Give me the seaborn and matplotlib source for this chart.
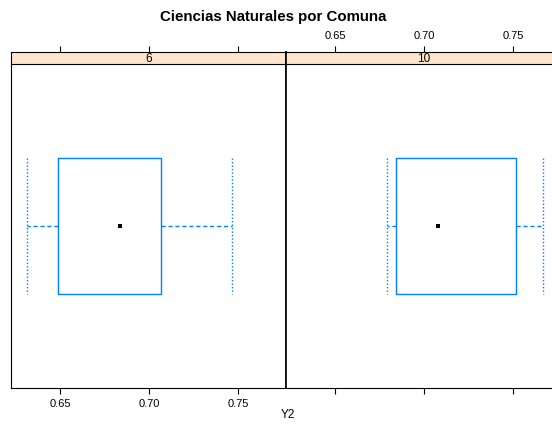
import numpy as np
import pandas as pd
import matplotlib
matplotlib.use('Agg')
import matplotlib.pyplot as plt
import seaborn as sns

# Resumen de cinco números (mín, Q1, mediana, Q3, máx)
comunas = ['6', '10']
y2_comuna_6 = [0.6314, 0.6489, 0.6833, 0.7066, 0.7466]
y2_comuna_10 = [0.6790, 0.6840, 0.7078, 0.7518, 0.7668]
x_ticks = [0.65, 0.70, 0.75]
x_tick_labels = ['0.65', '0.70', '0.75']

sns.set_style('white')
plt.rcParams['font.family'] = ['Liberation Sans', 'DejaVu Sans']
plt.rcParams['text.color'] = 'black'

W, H = 552, 428
fig = plt.figure(figsize=(W / 100, H / 100), dpi=100)
azul = '#0080ff'
xlim = (0.6222, 0.7770)

datos = {'6': y2_comuna_6, '10': y2_comuna_10}

for i, comuna in enumerate(comunas):
    x0 = 11 + i * 275
    ax = fig.add_axes([x0 / W, 1 - 388 / H, 275 / W, 324 / H])
    strip = fig.add_axes([x0 / W, 1 - 64 / H, 275 / W, 12 / H], sharex=ax)

    vals = datos[comuna]
    sns.boxplot(x=vals, ax=ax, orient='h', width=0.42, fill=False,
                color=azul, linewidth=1.0, whis=(0, 100),
                whiskerprops=dict(linestyle=(0, (3, 2)), color=azul),
                capprops=dict(linestyle=(0, (1, 1.5)), color=azul),
                boxprops=dict(color=azul),
                medianprops=dict(visible=False), capwidths=0.42)
    sns.scatterplot(x=[np.median(vals)], y=[0], ax=ax, marker='s', color='black',
                    s=9, linewidth=0)
    ax.set_xlim(*xlim)
    ax.set_ylim(0.5, -0.5)
    ax.set_yticks([])
    ax.set_ylabel('')
    ax.set_xlabel('')
    ax.set_xticks(x_ticks)
    for s in ax.spines.values():
        s.set_color('black')
        s.set_linewidth(0.8)
        s.set_visible(True)
    ax.spines['top'].set_visible(False)

    strip.set_facecolor('#ffe5cc')
    strip.set_yticks([])
    for s in strip.spines.values():
        s.set_color('black')
        s.set_linewidth(0.8)
    strip.text(0.5, 0.45, comuna, transform=strip.transAxes, ha='center',
               va='center', fontsize=8.5, color='black')

    strip.xaxis.tick_top()
    ax.xaxis.tick_bottom()
    ax.tick_params(axis='x', direction='out', length=4, width=0.8, labelsize=8,
                   colors='black', pad=4)
    strip.tick_params(axis='x', direction='out', length=4, width=0.8, labelsize=8,
                      colors='black', pad=4)
    if i == 0:
        ax.set_xticklabels(x_tick_labels)
        strip.tick_params(axis='x', labeltop=False)
        ax.spines['right'].set_linewidth(1.2)
        strip.spines['right'].set_linewidth(1.2)
    else:
        ax.tick_params(axis='x', labelbottom=False)
        strip.tick_params(axis='x', labeltop=True)
        strip.set_xticks(x_ticks)
        strip.set_xticklabels(x_tick_labels)
        ax.spines['left'].set_linewidth(1.2)
        strip.spines['left'].set_linewidth(1.2)

fig.text(273 / W, 1 - 17 / H, 'Ciencias Naturales por Comuna', ha='center',
         va='center', fontsize=10.8, fontweight='bold', color='black')
fig.text(288 / W, 1 - 415 / H, 'Y2', ha='center', va='center', fontsize=8.5,
         color='black')

fig.savefig('out.png', dpi=100)
